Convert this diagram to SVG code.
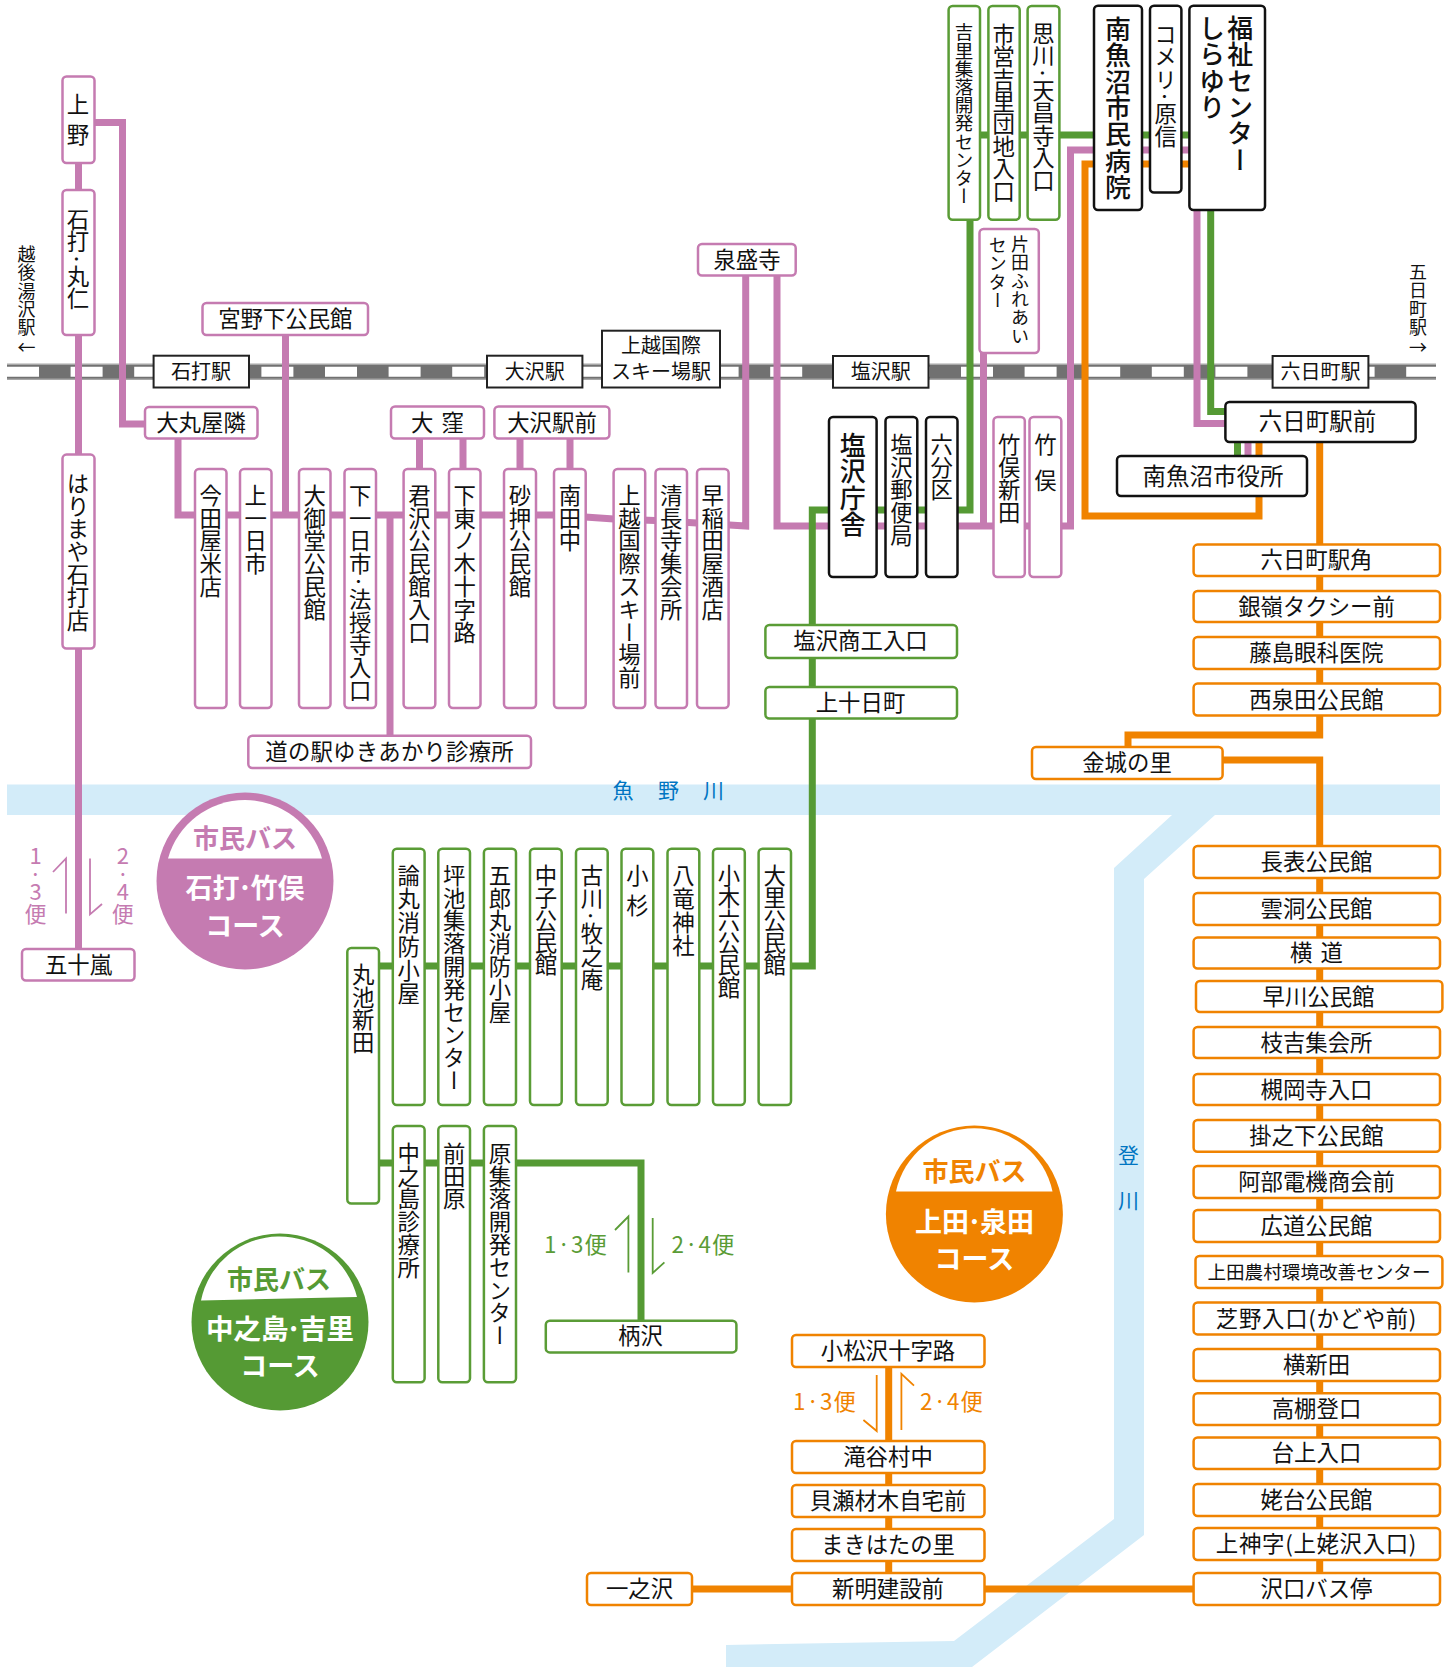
<svg xmlns="http://www.w3.org/2000/svg" width="1453" height="1667" viewBox="0 0 1453 1667">
<style>
text{font-family:"Noto Sans CJK JP","Noto Sans",sans-serif;fill:#111;dominant-baseline:central}
.h{text-anchor:middle;font-size:22.4px}
.v{writing-mode:vertical-rl;font-size:22.4px;letter-spacing:.4px}
.s{font-size:20px}
.b{font-size:26px;font-weight:500}
.h,.rv,.cp,.cg,.co,.w{transform:translateY(-2px)}
rect{fill:#fff;stroke-width:2.5}
.p rect{stroke:#c57bb1}.g rect{stroke:#5a9c36}.o rect{stroke:#f08300}.k rect{stroke:#111;stroke-width:2.5}
.t rect{stroke:#222;stroke-width:2}
.ln{fill:none;stroke-width:7}
.pl{stroke:#c57bb1}.gl{stroke:#559a34}.ol{stroke:#f08300}
.ar{fill:none;stroke-width:1.8}
.cp{font-weight:700;text-anchor:middle;fill:#c57bb1}
.cg{font-weight:700;text-anchor:middle;fill:#559a34}
.co{font-weight:700;text-anchor:middle;fill:#f08300}
.w{font-weight:700;text-anchor:middle;fill:#fff}
.rv{fill:#0075c2;font-size:21px}
.dp{font-size:22px;text-orientation:upright;letter-spacing:-4px;fill:#c57bb1}
</style>
<g id="rivers">
<rect x="7" y="784.5" width="1433" height="30.5" style="fill:#d3ecf9;stroke:none"/>
<polygon points="1172,815 1215,815 1144,879 1144,1535 972,1667 726,1667 726,1645 954,1641 1114,1519 1114,868" fill="#d3ecf9"/>
<text class="rv" x="612.5" y="790.5">魚</text><text class="rv" x="658" y="790.5">野</text><text class="rv" x="703" y="790.5">川</text>
<text class="rv" x="1118" y="1156">登</text><text class="rv" x="1118" y="1201">川</text>
</g>
<g id="railway">
<rect x="7" y="363.5" width="1429" height="16.5" style="fill:#a8a8a8;stroke:none"/>
<rect x="7" y="365" width="1429" height="13.5" style="fill:#717171;stroke:none"/>
<line x1="7" y1="371.7" x2="1436" y2="371.7" stroke="#fff" stroke-width="10" stroke-dasharray="32 31.6"/>
</g>
<g id="connectors">
<g class="ln pl">
<path d="M78.5 163V949"/>
<path d="M94 122.5H122.5V424H145"/>
<path d="M285.5 335V515"/>
<path d="M178 438V515H570"/>
<path d="M585 517L614 519L655 520.5L697 523L745.7 526V275"/>
<path d="M390 515V736"/>
<path d="M419.5 438V469M463 438V469M520 438V469M570 438V469"/>
<path d="M777 275V526H1070.5V150H1189"/>
<path d="M983.5 352V526"/>
<path d="M1197 210V423.5H1226"/>
<path d="M1248 442V456"/>
</g>
<g class="ln gl">
<path d="M970 220V510H812.3V966H379"/>
<path d="M980 135H1189"/>
<path d="M1210.7 210V411.5H1226"/>
<path d="M1237.5 442V456"/>
<path d="M379 1163H641V1321"/>
</g>
<g class="ln ol">
<path d="M1259 442V456"/>
<path d="M1259 496V516H1085V164H1189"/>
<path d="M1319.7 442V735H1128V747"/>
<path d="M1222 760H1319.7V1573"/>
<path d="M888.7 1367V1573"/>
<path d="M692 1589H1194"/>
</g>
<g class="ar">
<path d="M53 872L66 858.4V913.5M90 858.4V914.4L102 904" stroke="#c57bb1"/>
<path d="M615 1230L628.4 1216.5V1272.5M652.7 1218V1273L664.4 1262.4" stroke="#5a9c36"/>
<path d="M876.7 1375V1431L863.4 1420M914 1385.7L901.4 1373.8V1430" stroke="#f08300"/>
</g>
</g>
<g id="station-labels" class="t">
<g id="st-ishiuchi"><rect x="153.6" y="355.7" width="95.4" height="31.8"/><text class="h s" x="201" y="372">石打駅</text></g>
<g id="st-osawa"><rect x="487" y="355.7" width="95.4" height="31.8"/><text class="h s" x="534.7" y="372">大沢駅</text></g>
<g id="st-joetsu"><rect x="602" y="330.7" width="118" height="56.8"/><text class="h s" x="661" y="346">上越国際</text><text class="h s" x="661" y="372">スキー場駅</text></g>
<g id="st-shiozawa"><rect x="833" y="356" width="95.5" height="31.7"/><text class="h s" x="880.7" y="372">塩沢駅</text></g>
<g id="st-muikamachi"><rect x="1272.6" y="356" width="95.8" height="31.7"/><text class="h s" x="1320.5" y="372">六日町駅</text></g>
<text class="v" style="font-size:18px" x="26.5" y="245">越後湯沢駅</text><text class="h" style="font-size:18px" x="26.5" y="348">←</text>
<text class="v" style="font-size:18px" x="1418" y="263">五日町駅</text><text class="h" style="font-size:18px" x="1418" y="347.5">→</text>
</g>
<g id="pink-nodes" class="p">
<g id="n1"><rect x="62.5" y="76.5" width="32" height="86.5" rx="4"/><text class="v" x="78" y="93" style="letter-spacing:8px">上野</text></g>
<g id="n2"><rect x="62.5" y="190" width="32" height="145" rx="4"/><text class="v" x="78" y="208" style="letter-spacing:0">石打·丸仁</text></g>
<g id="n3"><rect x="62.5" y="454.6" width="32" height="193.9" rx="4"/><text class="v" x="78" y="472">はりまや石打店</text></g>
<g id="n4"><rect x="22" y="949" width="112.5" height="31.5" rx="4"/><text class="h" x="78.5" y="965">五十嵐</text></g>
<g id="n5"><rect x="202.5" y="303" width="165.5" height="32" rx="4"/><text class="h" x="285.3" y="318.5">宮野下公民館</text></g>
<g id="n6"><rect x="698" y="244" width="97.7" height="31.5" rx="4"/><text class="h" x="747" y="259.5">泉盛寺</text></g>
<g id="n7"><rect x="145" y="407" width="112.5" height="31.6" rx="4"/><text class="h" x="201" y="422.5">大丸屋隣</text></g>
<g id="n8"><rect x="391" y="406.5" width="93" height="32.1" rx="4"/><text class="h" x="437.5" y="422.5" style="word-spacing:3px">大 窪</text></g>
<g id="n9"><rect x="494.4" y="406.5" width="115" height="32.1" rx="4"/><text class="h" x="552" y="422.5">大沢駅前</text></g>
<g id="n10"><rect x="195" y="469" width="31.5" height="239" rx="4"/><text class="v" x="210.7" y="484">今田屋米店</text></g>
<g id="n11"><rect x="240" y="469" width="31.5" height="239" rx="4"/><text class="v" x="255.7" y="484">上一日市</text></g>
<g id="n12"><rect x="299" y="469" width="31.5" height="239" rx="4"/><text class="v" x="314.7" y="484">大御堂公民館</text></g>
<g id="n13"><rect x="344.5" y="469" width="31.5" height="239" rx="4"/><text class="v" x="360.2" y="484">下一日市·法授寺入口</text></g>
<g id="n14"><rect x="403.6" y="469" width="31.7" height="239" rx="4"/><text class="v" x="419.5" y="484">君沢公民館入口</text></g>
<g id="n15"><rect x="449" y="469" width="31.5" height="239" rx="4"/><text class="v" x="464.7" y="484">下東ノ木十字路</text></g>
<g id="n16"><rect x="504" y="469" width="32" height="239" rx="4"/><text class="v" x="520" y="484">砂押公民館</text></g>
<g id="n17"><rect x="554" y="469" width="31.7" height="239" rx="4"/><text class="v" x="569.9" y="484">南田中</text></g>
<g id="n18"><rect x="613.6" y="469" width="31.6" height="239" rx="4"/><text class="v" x="629.4" y="484">上越国際スキー場前</text></g>
<g id="n19"><rect x="655.5" y="469" width="31.5" height="239" rx="4"/><text class="v" x="671.2" y="484">清長寺集会所</text></g>
<g id="n20"><rect x="697" y="469" width="31.6" height="239" rx="4"/><text class="v" x="712.8" y="484">早稲田屋酒店</text></g>
<g id="n21"><rect x="248.3" y="735.8" width="282.7" height="32.2" rx="4"/><text class="h" x="389.6" y="752" style="letter-spacing:.2px">道の駅ゆきあかり診療所</text></g>
<g id="n22"><rect x="979.5" y="229" width="59.3" height="124" rx="4"/><text class="v" style="font-size:18px" x="1020" y="235">片田ふれあい</text><text class="v" style="font-size:18px" x="997.7" y="236">センター</text></g>
<g id="n23"><rect x="993.5" y="417" width="31.3" height="160" rx="4"/><text class="v" x="1009.2" y="433">竹俣新田</text></g>
<g id="n24"><rect x="1029.5" y="417" width="31.8" height="160" rx="4"/><text class="v" x="1045.4" y="433" style="letter-spacing:14px">竹俣</text></g>
</g>
<g id="black-nodes" class="k">
<g id="k1"><rect x="829" y="417" width="47.6" height="160" rx="4"/><text class="v b" x="852.8" y="432">塩沢庁舎</text></g>
<g id="k2"><rect x="885.5" y="417" width="31.8" height="160" rx="4"/><text class="v" x="901.4" y="433">塩沢郵便局</text></g>
<g id="k3"><rect x="926" y="417" width="31.5" height="160" rx="4"/><text class="v" x="941.7" y="433">六分区</text></g>
<g id="k4"><rect x="1094" y="5.7" width="48" height="204.3" rx="4"/><text class="v b" x="1118" y="16">南魚沼市民病院</text></g>
<g id="k5"><rect x="1150" y="5.7" width="31.4" height="186.8" rx="4"/><text class="v" x="1165.7" y="23" style="letter-spacing:0">コメリ·原信</text></g>
<g id="k6"><rect x="1189.4" y="5.7" width="75.6" height="204.3" rx="4"/><text class="v b" x="1240.3" y="15">福祉センター</text><text class="v b" x="1212" y="15">しらゆり</text></g>
<g id="k7"><rect x="1225.4" y="402" width="190.2" height="40" rx="4"/><text class="h" style="font-size:23.5px" x="1317.5" y="421.7">六日町駅前</text></g>
<g id="k8"><rect x="1117" y="456" width="190" height="40" rx="4"/><text class="h" style="font-size:23.5px" x="1213" y="476.5">南魚沼市役所</text></g>
</g>
<g id="green-nodes" class="g">
<g id="g1"><rect x="948.6" y="6" width="31.4" height="213.7" rx="4"/><text class="v" style="font-size:18.6px;letter-spacing:-.4px" x="964" y="23">吉里集落開発センター</text></g>
<g id="g2"><rect x="988.4" y="6" width="31.3" height="213.7" rx="4"/><text class="v" x="1003.6" y="23" style="letter-spacing:0">市営吉里団地入口</text></g>
<g id="g3"><rect x="1027.6" y="6" width="31.8" height="213.7" rx="4"/><text class="v" x="1043.5" y="22" style="letter-spacing:0">思川·天昌寺入口</text></g>
<g id="g4"><rect x="765.4" y="625" width="191.6" height="33" rx="4"/><text class="h" x="860.5" y="641">塩沢商工入口</text></g>
<g id="g5"><rect x="765.4" y="687" width="191.6" height="31.6" rx="4"/><text class="h" x="860.5" y="703">上十日町</text></g>
<g id="g6"><rect x="347.3" y="948" width="31.7" height="255.6" rx="4"/><text class="v" x="363.2" y="963">丸池新田</text></g>
<g id="g7"><rect x="392.8" y="848.8" width="31.8" height="256.2" rx="4"/><text class="v" x="408.7" y="864" style="letter-spacing:1.3px">論丸消防小屋</text></g>
<g id="g8"><rect x="438.3" y="848.8" width="31.7" height="256.2" rx="4"/><text class="v" x="454.2" y="864">坪池集落開発センター</text></g>
<g id="g9"><rect x="483.9" y="848.8" width="32.1" height="256.2" rx="4"/><text class="v" x="500" y="864">五郎丸消防小屋</text></g>
<g id="g10"><rect x="530" y="848.8" width="31.7" height="256.2" rx="4"/><text class="v" x="545.9" y="864" style="letter-spacing:0">中子公民館</text></g>
<g id="g11"><rect x="576" y="848.8" width="31.7" height="256.2" rx="4"/><text class="v" x="591.9" y="864">古川·牧之庵</text></g>
<g id="g12"><rect x="621.5" y="848.8" width="31.8" height="256.2" rx="4"/><text class="v" x="637.4" y="864" style="letter-spacing:8px">小杉</text></g>
<g id="g13"><rect x="667.5" y="848.8" width="31.8" height="256.2" rx="4"/><text class="v" x="683.4" y="864" style="letter-spacing:1px">八竜神社</text></g>
<g id="g14"><rect x="713" y="848.8" width="31.8" height="256.2" rx="4"/><text class="v" x="728.9" y="864" style="letter-spacing:0">小木六公民館</text></g>
<g id="g15"><rect x="758.6" y="848.8" width="32.4" height="256.2" rx="4"/><text class="v" x="774.8" y="864" style="letter-spacing:0">大里公民館</text></g>
<g id="g16"><rect x="392.8" y="1126" width="31.8" height="256.3" rx="4"/><text class="v" x="408.7" y="1142">中之島診療所</text></g>
<g id="g17"><rect x="438.3" y="1126" width="31.7" height="256.3" rx="4"/><text class="v" x="454.2" y="1142">前田原</text></g>
<g id="g18"><rect x="483.9" y="1126" width="32.1" height="256.3" rx="4"/><text class="v" x="500" y="1142">原集落開発センター</text></g>
<g id="g19"><rect x="545.8" y="1320.7" width="190.6" height="31.7" rx="4"/><text class="h" x="640.5" y="1336">柄沢</text></g>
</g>
<g id="orange-nodes" class="o">
<g id="o1"><rect x="1193.6" y="544.6" width="246.4" height="31.4" rx="4"/><text class="h" x="1316.5" y="560">六日町駅角</text></g>
<g id="o2"><rect x="1193.6" y="591" width="246.4" height="31" rx="4"/><text class="h" x="1316.5" y="606.5">銀嶺タクシー前</text></g>
<g id="o3"><rect x="1193.6" y="637" width="246.4" height="32" rx="4"/><text class="h" x="1316.5" y="653">藤島眼科医院</text></g>
<g id="o4"><rect x="1193.6" y="683.6" width="246.4" height="31.9" rx="4"/><text class="h" x="1316.5" y="699.5">西泉田公民館</text></g>
<g id="o5"><rect x="1032" y="747" width="190.6" height="32" rx="4"/><text class="h" x="1127" y="763">金城の里</text></g>
<g id="o6"><rect x="1193.6" y="846" width="246.4" height="32" rx="4"/><text class="h" x="1316.5" y="862">長表公民館</text></g>
<g id="o7"><rect x="1193.6" y="893" width="246.4" height="32" rx="4"/><text class="h" x="1316.5" y="909">雲洞公民館</text></g>
<g id="o8"><rect x="1193.6" y="937.6" width="246.4" height="31" rx="4"/><text class="h" x="1316.5" y="953" style="word-spacing:3px">横 道</text></g>
<g id="o9"><rect x="1196" y="981" width="246.4" height="31" rx="4"/><text class="h" x="1318.5" y="996.5">早川公民館</text></g>
<g id="o10"><rect x="1193.6" y="1027" width="246.4" height="31" rx="4"/><text class="h" x="1316.5" y="1042.5">枝吉集会所</text></g>
<g id="o11"><rect x="1193.6" y="1074" width="246.4" height="31" rx="4"/><text class="h" x="1316.5" y="1089.5">槻岡寺入口</text></g>
<g id="o12"><rect x="1193.6" y="1120" width="246.4" height="31.7" rx="4"/><text class="h" x="1316.5" y="1136">掛之下公民館</text></g>
<g id="o13"><rect x="1193.6" y="1166" width="246.4" height="32" rx="4"/><text class="h" x="1316.5" y="1182">阿部電機商会前</text></g>
<g id="o14"><rect x="1193.6" y="1210" width="246.4" height="32" rx="4"/><text class="h" x="1316.5" y="1226">広道公民館</text></g>
<g id="o15"><rect x="1195.5" y="1256" width="246.9" height="32" rx="4"/><text class="h" style="font-size:18.6px" x="1319" y="1272">上田農村環境改善センター</text></g>
<g id="o16"><rect x="1193.6" y="1302.5" width="246.4" height="31.9" rx="4"/><text class="h" x="1316.5" y="1318.5" style="letter-spacing:.7px">芝野入口(かどや前)</text></g>
<g id="o17"><rect x="1193.6" y="1349" width="246.4" height="32" rx="4"/><text class="h" x="1316.5" y="1365">横新田</text></g>
<g id="o18"><rect x="1193.6" y="1393.3" width="246.4" height="31.7" rx="4"/><text class="h" x="1316.5" y="1409">高棚登口</text></g>
<g id="o19"><rect x="1193.6" y="1437.4" width="246.4" height="31.6" rx="4"/><text class="h" x="1316.5" y="1453">台上入口</text></g>
<g id="o20"><rect x="1193.6" y="1484" width="246.4" height="32" rx="4"/><text class="h" x="1316.5" y="1500">姥台公民館</text></g>
<g id="o21"><rect x="1193.6" y="1528" width="246.4" height="32" rx="4"/><text class="h" x="1316.5" y="1544" style="letter-spacing:.7px">上神字(上姥沢入口)</text></g>
<g id="o22"><rect x="1193.6" y="1573" width="246.4" height="32" rx="4"/><text class="h" x="1316.5" y="1589">沢口バス停</text></g>
<g id="o23"><rect x="792" y="1335" width="192.5" height="32" rx="4"/><text class="h" x="888" y="1351">小松沢十字路</text></g>
<g id="o24"><rect x="792" y="1441" width="192.5" height="32" rx="4"/><text class="h" x="888" y="1457">滝谷村中</text></g>
<g id="o25"><rect x="792" y="1485" width="192.5" height="32" rx="4"/><text class="h" x="888" y="1501">貝瀬材木自宅前</text></g>
<g id="o26"><rect x="792" y="1529" width="192.5" height="32" rx="4"/><text class="h" x="888" y="1545">まきはたの里</text></g>
<g id="o27"><rect x="792" y="1573" width="192.5" height="32" rx="4"/><text class="h" x="888" y="1589">新明建設前</text></g>
<g id="o28"><rect x="587" y="1573" width="105" height="32" rx="4"/><text class="h" x="639.5" y="1589">一之沢</text></g>
</g>
<g id="direction-labels">
<text class="v dp" x="35.5" y="845">1·3<tspan dy="4">便</tspan></text>
<text class="v dp" x="122.8" y="845">2·4<tspan dy="4">便</tspan></text>
<text class="h" x="576" y="1245" style="fill:#5a9c36;letter-spacing:1px">1·3便</text>
<text class="h" x="703.5" y="1245" style="fill:#5a9c36;letter-spacing:1px">2·4便</text>
<text class="h" x="825" y="1402" style="fill:#f08300;letter-spacing:1px">1·3便</text>
<text class="h" x="952" y="1402" style="fill:#f08300;letter-spacing:1px">2·4便</text>
</g>
<g id="badge-pink">
<circle cx="245" cy="881" r="88.5" fill="#c57bb1"/>
<path d="M168 858.4A80 80 0 0 1 322 858.4Z" fill="#fff"/>
<text class="cp" x="245" y="838" font-size="26">市民バス</text>
<text class="w" x="245" y="888" font-size="27">石打<tspan dx="-2.5">·</tspan><tspan dx="-2.5">竹俣</tspan></text>
<text class="w" x="245" y="926" font-size="27">コース</text>
</g>
<g id="badge-green">
<circle cx="280" cy="1322" r="88.5" fill="#559a34"/>
<path d="M201 1300.5A80 80 0 0 1 357 1297Z" fill="#fff"/>
<text class="cg" x="279" y="1279.5" font-size="26">市民バス</text>
<text class="w" x="280" y="1329" font-size="27.5">中之島<tspan dx="-3">·</tspan><tspan dx="-3">吉里</tspan></text>
<text class="w" x="280" y="1366" font-size="27">コース</text>
</g>
<g id="badge-orange">
<circle cx="974.4" cy="1214" r="88.5" fill="#f08300"/>
<path d="M896 1191.5A80 80 0 0 1 1052.5 1191.5Z" fill="#fff"/>
<text class="co" x="974.4" y="1171" font-size="26">市民バス</text>
<text class="w" x="974.4" y="1222" font-size="27">上田<tspan dx="-2.5">·</tspan><tspan dx="-2.5">泉田</tspan></text>
<text class="w" x="974.4" y="1259" font-size="27">コース</text>
</g>
</svg>
